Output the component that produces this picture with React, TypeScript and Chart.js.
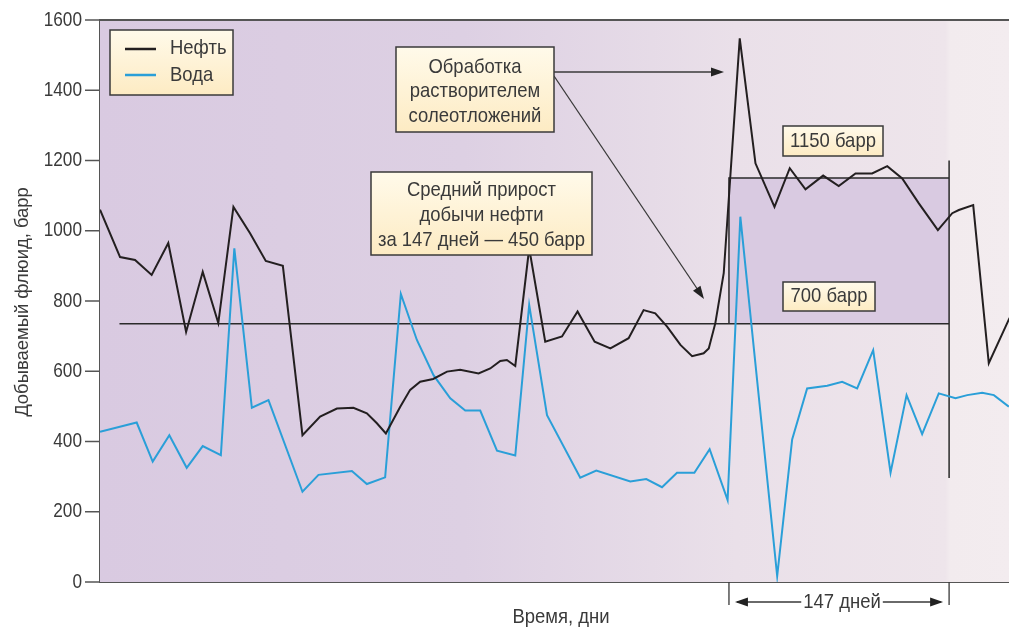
import React, { useEffect, useRef } from "react";
import { Chart, registerables } from "chart.js";

Chart.register(...registerables);

// ---- data (x = day, y = barrels) ----
const oilDays = [0, 13.4, 23.4, 34.5, 45.6, 57.5, 68.6, 79.0, 89.1, 100.2, 110.7, 122.1, 135.2, 147.0, 158.2, 169.2, 178.2, 184.9, 190.9, 200.5, 207.1, 213.8, 222.5, 231.7, 240.5, 252.8, 260.6, 267.3, 271.7, 277.3, 286.6, 297.3, 308.5, 318.9, 330.3, 340.8, 353.0, 363.0, 370.8, 378.7, 387.6, 395.4, 403.1, 406.5, 410.9, 416.5, 427.2, 437.7, 450.4, 460.6, 471.1, 482.9, 493.3, 504.5, 515.6, 525.7, 535.7, 546.8, 559.5, 569.1, 573.5, 583.1, 593.5, 607.4];
const oilValues = [1060, 925, 917, 874, 965, 712, 883, 737, 1068, 993, 914, 900, 418, 471, 494, 496, 480, 452, 423, 499, 547, 570, 578, 599, 604, 594, 608, 629, 632, 615, 950, 684, 699, 770, 684, 665, 694, 774, 765, 727, 675, 643, 651, 665, 737, 879, 1548, 1192, 1068, 1178, 1118, 1157, 1127, 1163, 1163, 1184, 1149, 1078, 1002, 1050, 1059, 1073, 623, 752];

const waterDays = [0, 24.5, 35.2, 46.3, 57.9, 68.6, 80.7, 89.7, 101.4, 112.5, 135.2, 145.9, 168.2, 178.2, 190.4, 200.9, 211.6, 222.7, 233.9, 243.9, 253.9, 265.1, 277.3, 286.6, 298.5, 320.7, 331.4, 354.1, 364.8, 375.3, 385.3, 396.9, 407.1, 419.1, 427.6, 452.2, 462.2, 472.2, 485.6, 495.6, 505.6, 516.3, 527.9, 538.6, 549.0, 560.1, 571.3, 579.1, 589.1, 596.9, 606.9];
const waterValues = [428, 454, 343, 418, 325, 387, 361, 950, 496, 518, 257, 305, 316, 279, 298, 820, 689, 589, 523, 488, 488, 374, 360, 789, 475, 297, 317, 286, 293, 270, 311, 311, 378, 233, 1040, 17, 406, 551, 559, 570, 551, 660, 311, 532, 421, 537, 523, 532, 539, 532, 499];

const seriesLabels = ["Нефть", "Вода"];
const yTicks = [0, 200, 400, 600, 800, 1000, 1200, 1400, 1600];

const treatmentStartDay = 420;
const treatmentEndDay = 567;
const avgLineStartDay = 13;
const baseLevel = 735;
const treatedLevel = 1150;

const textTreatment = ["Обработка", "растворителем", "солеотложений"];
const textGain = ["Средний прирост", "добычи нефти", "за 147 дней — 450 барр"];
const labelHigh = "1150 барр";
const labelLow = "700 барр";
const labelPeriod = "147 дней";
const xTitle = "Время, дни";
const yTitle = "Добываемый флюид, барр";

const OIL = "#231f20";
const WATER = "#2a9fd8";
const TXT = "#3a3a3a";
const AXIS = "#555";
const FONT = "'Liberation Sans', Arial, sans-serif";
const SX = 0.88;

function sText(ctx: CanvasRenderingContext2D, t: string, x: number, y: number, size = 21, sx = SX, align: CanvasTextAlign = "center") {
  ctx.save();
  ctx.fillStyle = TXT;
  ctx.font = `${size}px ${FONT}`;
  ctx.textAlign = align;
  ctx.textBaseline = "middle";
  ctx.translate(x, y);
  ctx.scale(sx, 1);
  ctx.fillText(t, 0, 0);
  ctx.restore();
}

function arrowHead(ctx: CanvasRenderingContext2D, x1: number, y1: number, x2: number, y2: number, len = 13, half = 4.5) {
  const a = Math.atan2(y2 - y1, x2 - x1);
  ctx.beginPath();
  ctx.moveTo(x2, y2);
  ctx.lineTo(x2 - len * Math.cos(a) + half * Math.sin(a), y2 - len * Math.sin(a) - half * Math.cos(a));
  ctx.lineTo(x2 - len * Math.cos(a) - half * Math.sin(a), y2 - len * Math.sin(a) + half * Math.cos(a));
  ctx.closePath();
  ctx.fill();
}

function noteBox(ctx: CanvasRenderingContext2D, x1: number, y1: number, x2: number, y2: number) {
  const g = ctx.createLinearGradient(0, y1, 0, y2);
  g.addColorStop(0, "#fffaea");
  g.addColorStop(1, "#fdebc3");
  ctx.fillStyle = g;
  ctx.fillRect(x1, y1, x2 - x1, y2 - y1);
  ctx.strokeStyle = "#3a3a3a";
  ctx.lineWidth = 1.5;
  ctx.strokeRect(x1, y1, x2 - x1, y2 - y1);
}

function lines(ctx: CanvasRenderingContext2D, arr: string[], cx: number, ys: number[]) {
  arr.forEach((t, i) => sText(ctx, t, cx, ys[i]));
}

const decor = {
  id: "decor",
  beforeDatasetsDraw(chart: any) {
    const { ctx, chartArea: ca, scales } = chart;
    const x = scales.x, y = scales.y;
    ctx.save();
    const g = ctx.createLinearGradient(ca.left, 0, ca.right, 0);
    g.addColorStop(0, "#d9cae1");
    g.addColorStop(0.4, "#ddd0e3");
    g.addColorStop(0.7, "#eae0e9");
    g.addColorStop(0.93, "#eee5eb");
    g.addColorStop(0.935, "#f2ebee");
    g.addColorStop(1, "#f3ecef");
    ctx.fillStyle = g;
    ctx.fillRect(ca.left, ca.top, ca.right - ca.left, ca.bottom - ca.top);

    const xs = x.getPixelForValue(treatmentStartDay);
    const xe = x.getPixelForValue(treatmentEndDay);
    const yb = y.getPixelForValue(baseLevel);
    const yt = y.getPixelForValue(treatedLevel);
    ctx.fillStyle = "#d9cae1";
    ctx.fillRect(xs, yt, xe - xs, yb - yt);

    ctx.strokeStyle = "#2a2a2a";
    ctx.lineWidth = 1.5;
    ctx.beginPath();
    ctx.moveTo(x.getPixelForValue(avgLineStartDay), yb);
    ctx.lineTo(xe, yb);
    ctx.moveTo(xs, yb);
    ctx.lineTo(xs, yt);
    ctx.lineTo(xe, yt);
    ctx.moveTo(xe, y.getPixelForValue(1200));
    ctx.lineTo(xe, y.getPixelForValue(296));
    ctx.stroke();

    // top frame
    ctx.strokeStyle = AXIS;
    ctx.lineWidth = 2;
    ctx.beginPath();
    ctx.moveTo(ca.left, ca.top);
    ctx.lineTo(ca.right, ca.top);
    ctx.stroke();
    ctx.restore();
  },
  afterDatasetsDraw(chart: any) {
    const { ctx, chartArea: ca } = chart;
    const L = ca.left, T = ca.top;
    ctx.save();

    // legend
    noteBox(ctx, L + 10, T + 10, L + 133, T + 75);
    ctx.lineWidth = 2.5;
    ctx.strokeStyle = OIL;
    ctx.beginPath(); ctx.moveTo(L + 25, T + 29); ctx.lineTo(L + 56, T + 29); ctx.stroke();
    ctx.strokeStyle = WATER;
    ctx.beginPath(); ctx.moveTo(L + 25, T + 55); ctx.lineTo(L + 56, T + 55); ctx.stroke();
    sText(ctx, seriesLabels[0], L + 70, T + 28, 21, SX, "left");
    sText(ctx, seriesLabels[1], L + 70, T + 55, 21, SX, "left");

    // arrows from treatment note
    ctx.strokeStyle = "#3a3a3a";
    ctx.fillStyle = "#222";
    ctx.lineWidth = 1.3;
    const ax = L + 454;
    ctx.beginPath(); ctx.moveTo(ax, T + 52); ctx.lineTo(L + 613, T + 52); ctx.stroke();
    arrowHead(ctx, ax, T + 52, L + 624, T + 52);
    ctx.beginPath(); ctx.moveTo(ax, T + 56); ctx.lineTo(L + 598, T + 270); ctx.stroke();
    arrowHead(ctx, ax, T + 56, L + 604, T + 279);

    // notes
    noteBox(ctx, L + 296, T + 27, L + 454, T + 112);
    lines(ctx, textTreatment, L + 375, [T + 47, T + 71, T + 96]);
    noteBox(ctx, L + 271, T + 152, L + 492, T + 235);
    lines(ctx, textGain, L + 381.5, [T + 170, T + 195, T + 220]);
    noteBox(ctx, L + 683, T + 106, L + 783, T + 136);
    lines(ctx, [labelHigh], L + 733, [T + 121]);
    noteBox(ctx, L + 683, T + 262, L + 775, T + 291);
    lines(ctx, [labelLow], L + 729, [T + 276]);
    ctx.restore();
  },
  afterDraw(chart: any) {
    const { ctx, chartArea: ca, scales } = chart;
    const x = scales.x, y = scales.y;
    ctx.save();

    // y ticks and labels
    ctx.strokeStyle = AXIS;
    ctx.lineWidth = 1.5;
    yTicks.forEach((v) => {
      const py = y.getPixelForValue(v);
      ctx.beginPath();
      ctx.moveTo(ca.left - 15, py);
      ctx.lineTo(ca.left, py);
      ctx.stroke();
      sText(ctx, String(v), ca.left - 18, py, 20, 0.86, "right");
    });

    // period bracket
    const xs = x.getPixelForValue(treatmentStartDay);
    const xe = x.getPixelForValue(treatmentEndDay);
    const by = ca.bottom + 20;
    ctx.strokeStyle = "#3a3a3a";
    ctx.fillStyle = "#222";
    ctx.lineWidth = 1.3;
    ctx.beginPath();
    ctx.moveTo(xs, ca.bottom); ctx.lineTo(xs, ca.bottom + 23);
    ctx.moveTo(xe, ca.bottom); ctx.lineTo(xe, ca.bottom + 23);
    ctx.stroke();
    ctx.font = `21px ${FONT}`;
    const mid = (xs + xe) / 2 + 3;
    const tw = ctx.measureText(labelPeriod).width * SX;
    ctx.beginPath();
    ctx.moveTo(mid - tw / 2 - 2, by); ctx.lineTo(xs + 8, by);
    ctx.moveTo(mid + tw / 2 + 2, by); ctx.lineTo(xe - 8, by);
    ctx.stroke();
    arrowHead(ctx, mid, by, xs + 6, by);
    arrowHead(ctx, mid, by, xe - 6, by);
    sText(ctx, labelPeriod, mid, by);

    // axis titles
    sText(ctx, xTitle, 561, 617);
    ctx.translate(23, 302);
    ctx.rotate(-Math.PI / 2);
    sText(ctx, yTitle, 0, 0, 19, 0.97);
    ctx.restore();
  },
};

export default function App() {
  const ref = useRef<HTMLCanvasElement>(null);
  useEffect(() => {
    if (!ref.current) return;
    const chart = new Chart(ref.current, {
      type: "line",
      data: {
        datasets: [
          {
            label: seriesLabels[0],
            data: oilDays.map((d, i) => ({ x: d, y: oilValues[i] })),
            borderColor: OIL,
            borderWidth: 2,
            pointRadius: 0,
            tension: 0,
            fill: false,
          },
          {
            label: seriesLabels[1],
            data: waterDays.map((d, i) => ({ x: d, y: waterValues[i] })),
            borderColor: WATER,
            borderWidth: 2,
            pointRadius: 0,
            tension: 0,
            fill: false,
          },
        ],
      },
      options: {
        responsive: true,
        maintainAspectRatio: false,
        animation: false,
        layout: { padding: { top: 20, right: 0, left: 0, bottom: 0 } },
        plugins: { legend: { display: false }, tooltip: { enabled: false }, title: { display: false } },
        scales: {
          x: {
            type: "linear",
            min: 0,
            max: 607,
            ticks: { display: false },
            grid: { display: false, drawTicks: false },
            border: { display: true, color: AXIS, width: 2 },
            afterFit: (s: any) => { s.height = 48; },
          },
          y: {
            min: 0,
            max: 1600,
            ticks: { display: false, stepSize: 200 },
            grid: { display: false, drawTicks: false },
            border: { display: true, color: AXIS, width: 2 },
            afterFit: (s: any) => { s.width = 100; },
          },
        },
      },
      plugins: [decor],
    });
    return () => chart.destroy();
  }, []);
  return (
    <div style={{ position: "absolute", left: 0, top: 0, width: 1009, height: 630, background: "#fff" }}>
      <canvas ref={ref} />
    </div>
  );
}
